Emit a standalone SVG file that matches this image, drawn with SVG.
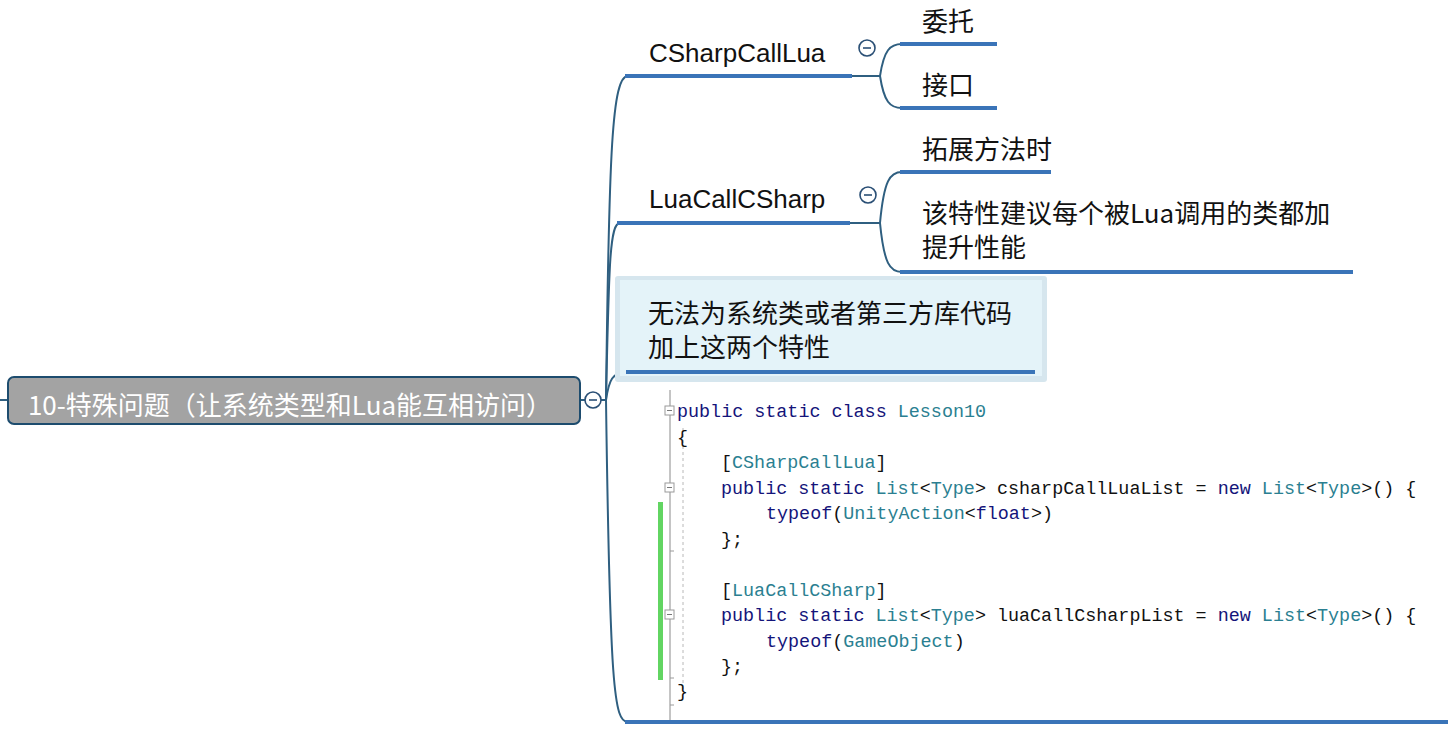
<svg xmlns="http://www.w3.org/2000/svg" width="1448" height="730" viewBox="0 0 1448 730">
<defs>
<style>
.t{font-family:"Noto Sans CJK SC","Liberation Sans",sans-serif;font-size:26px;fill:#111}
.l{font-family:"Liberation Sans","Noto Sans CJK SC",sans-serif;font-size:26px;fill:#111}
.ul{stroke:#3a74b8;stroke-width:4;fill:none}
.c{stroke:#2f5f80;stroke-width:2;fill:none}
.cc{fill:#fff;stroke:#2a4f75;stroke-width:1.6}
.cm{stroke:#2a4f75;stroke-width:1.6}
.code{font-family:"Liberation Mono","DejaVu Sans Mono",monospace;font-size:18.4px;fill:#111;white-space:pre}
.kw{fill:#14147a}
.ty{fill:#2b7f91}
.gb{fill:#fff;stroke:#9a9a9a;stroke-width:1}
</style>
</defs>
<rect width="1448" height="730" fill="#fff"/>

<g id="connectors">
<line x1="0" y1="400" x2="8" y2="400" class="c"/>
<line x1="580" y1="400" x2="585" y2="400" class="c"/>
<path d="M606,400 C609,150 612,76 628,76" class="c"/>
<path d="M606,400 C609,260 610,223 620,223" class="c"/>
<path d="M606,400 C609,380 612,372 628,372" class="c"/>
<path d="M606,400 C610,690 614,722 628,722" class="c"/>
<line x1="601" y1="400" x2="606" y2="400" class="c"/>
<path d="M852,76 L880,76 C884,50 890,44 902,44" class="c"/>
<path d="M880,76 C884,102 890,108 902,108" class="c"/>
<path d="M850,223 L880,223 C884,180 890,172 902,172" class="c"/>
<path d="M880,223 C884,264 890,272 902,272" class="c"/>
</g>

<g id="root">
<rect x="8" y="377" width="572" height="47" rx="6" fill="#a3a3a3" stroke="#1d4c6e" stroke-width="2"/>
<text x="290" y="415" text-anchor="middle" font-family="Noto Sans CJK SC,Liberation Sans,sans-serif" font-size="26" fill="#fff">10-特殊问题（让系统类型和Lua能互相访问）</text>
<circle cx="593" cy="400" r="8" class="cc"/>
<line x1="589" y1="400" x2="597" y2="400" class="cm"/>
</g>

<g id="n-csharpcalllua">
<text x="649" y="62" class="l">CSharpCallLua</text>
<line x1="625" y1="76" x2="852" y2="76" class="ul"/>
<circle cx="867" cy="48" r="8" class="cc"/>
<line x1="863" y1="48" x2="871" y2="48" class="cm"/>
</g>
<g id="n-weituo">
<text x="922" y="31" class="t">委托</text>
<line x1="900" y1="44" x2="997" y2="44" class="ul"/>
</g>
<g id="n-jiekou">
<text x="922" y="95" class="t">接口</text>
<line x1="900" y1="108" x2="997" y2="108" class="ul"/>
</g>

<g id="n-luacallcsharp">
<text x="649" y="208" class="l">LuaCallCSharp</text>
<line x1="617" y1="223" x2="850" y2="223" class="ul"/>
<circle cx="868" cy="195" r="8" class="cc"/>
<line x1="864" y1="195" x2="872" y2="195" class="cm"/>
</g>
<g id="n-tuozhan">
<text x="922" y="159" class="t">拓展方法时</text>
<line x1="900" y1="172" x2="1051" y2="172" class="ul"/>
</g>
<g id="n-jianyi">
<text x="922" y="223" class="t">该特性建议每个被Lua调用的类都加</text>
<text x="922" y="257" class="t">提升性能</text>
<line x1="900" y1="272" x2="1353" y2="272" class="ul"/>
</g>

<g id="n-wufa">
<rect x="615" y="276" width="432" height="106" rx="3" fill="#d6e6ee"/>
<rect x="620" y="280" width="422" height="96" fill="#e4f3f9"/>
<text x="648" y="323" class="t">无法为系统类或者第三方库代码</text>
<text x="648" y="357" class="t">加上这两个特性</text>
<line x1="626" y1="372" x2="1035" y2="372" class="ul"/>
</g>

<g id="n-code">
<line x1="670" y1="390" x2="670" y2="720" stroke="#8a8a8a" stroke-width="1"/>
<line x1="683" y1="428" x2="683" y2="690" stroke="#b8b8b8" stroke-width="1" stroke-dasharray="3,3"/>
<rect x="658" y="502" width="5" height="178" fill="#62d562"/>
<line x1="670" y1="551" x2="674" y2="551" stroke="#9a9a9a"/>
<line x1="670" y1="678" x2="674" y2="678" stroke="#9a9a9a"/>
<line x1="670" y1="705" x2="674" y2="705" stroke="#9a9a9a"/>
<rect x="665" y="406" width="9" height="9" class="gb"/><line x1="667" y1="410.5" x2="672" y2="410.5" stroke="#777"/>
<rect x="665" y="483" width="9" height="9" class="gb"/><line x1="667" y1="487.5" x2="672" y2="487.5" stroke="#777"/>
<rect x="665" y="610" width="9" height="9" class="gb"/><line x1="667" y1="614.5" x2="672" y2="614.5" stroke="#777"/>
<text class="code" x="677" y="417"><tspan class="kw">public static class</tspan> <tspan class="ty">Lesson10</tspan></text>
<text class="code" x="677" y="443">{</text>
<text class="code" x="721" y="468">[<tspan class="ty">CSharpCallLua</tspan>]</text>
<text class="code" x="721" y="494"><tspan class="kw">public static</tspan> <tspan class="ty">List</tspan>&lt;<tspan class="ty">Type</tspan>&gt; csharpCallLuaList = <tspan class="kw">new</tspan> <tspan class="ty">List</tspan>&lt;<tspan class="ty">Type</tspan>&gt;() {</text>
<text class="code" x="766" y="519"><tspan class="kw">typeof</tspan>(<tspan class="ty">UnityAction</tspan>&lt;<tspan class="kw">float</tspan>&gt;)</text>
<text class="code" x="721" y="545">};</text>
<text class="code" x="721" y="596">[<tspan class="ty">LuaCallCSharp</tspan>]</text>
<text class="code" x="721" y="621"><tspan class="kw">public static</tspan> <tspan class="ty">List</tspan>&lt;<tspan class="ty">Type</tspan>&gt; luaCallCsharpList = <tspan class="kw">new</tspan> <tspan class="ty">List</tspan>&lt;<tspan class="ty">Type</tspan>&gt;() {</text>
<text class="code" x="766" y="647"><tspan class="kw">typeof</tspan>(<tspan class="ty">GameObject</tspan>)</text>
<text class="code" x="721" y="672">};</text>
<text class="code" x="677" y="697">}</text>
<line x1="625" y1="722" x2="1448" y2="722" class="ul"/>
</g>
</svg>
